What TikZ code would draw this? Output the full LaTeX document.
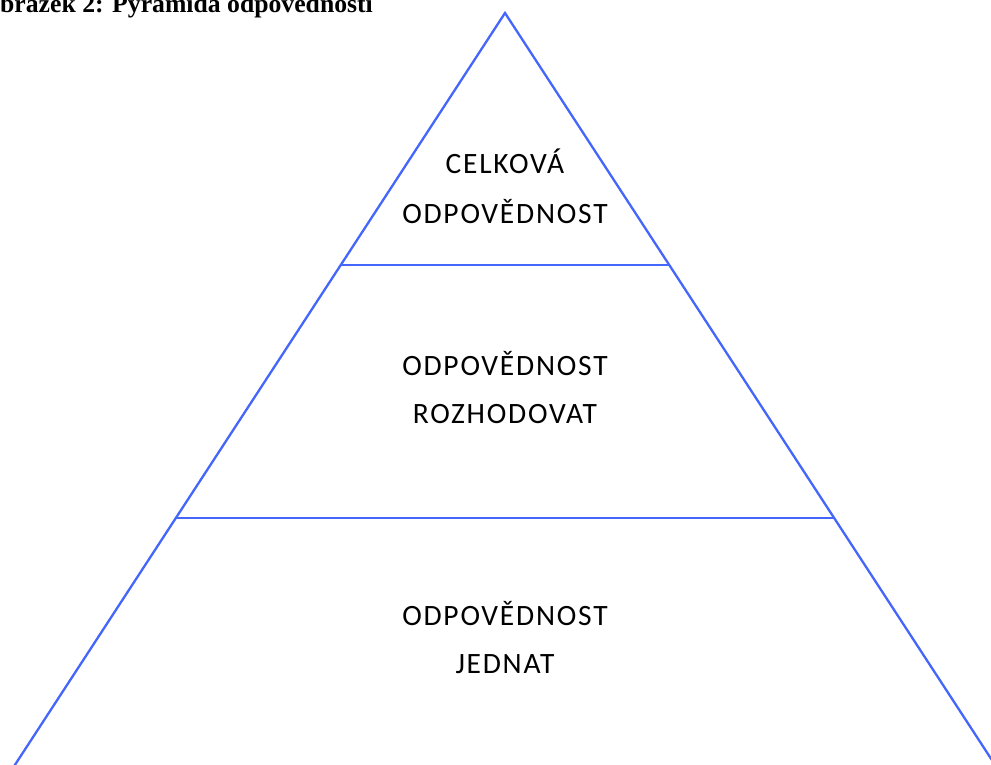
\documentclass[tikz,border=0pt]{standalone}
\usepackage{fontspec}
\setmainfont{Liberation Serif}
\newfontfamily\tierfont[LetterSpace=6]{Carlito}
\definecolor{pyrblue}{RGB}{68,102,250}
\begin{document}
\begin{tikzpicture}[x=1pt,y=-1pt,
  edge/.style={draw=pyrblue,line width=2.3pt},
  tier/.style={font=\tierfont\fontsize{29.5}{36}\selectfont,anchor=base,inner sep=0pt}]
\useasboundingbox (0,0) rectangle (991,765);
\begin{scope}
\clip (0,0) rectangle (991,765);
\node[font=\bfseries\fontsize{25.7}{30}\selectfont,anchor=base west,inner sep=0pt] (title) at (-20,12.8) {Obrázek 2: Pyramida odpovědnosti};
\coordinate (apex) at (505,13);
\coordinate (bl) at (-6,797);
\coordinate (br) at (1016,797);
\coordinate (l1) at (341,265);
\coordinate (r1) at (669,265);
\coordinate (l2) at (176,518);
\coordinate (r2) at (834,518);
\draw[edge,line join=miter] (bl) -- (apex) -- (br);
\draw[edge] (l1) -- (r1);
\draw[edge] (l2) -- (r2);
\end{scope}
\node[tier] (a1) at (505,174) {CELKOVÁ};
\node[tier] (a2) at (505,223) {ODPOVĚDNOST};
\node[tier] (b1) at (505,375) {ODPOVĚDNOST};
\node[tier] (b2) at (505,423) {ROZHODOVAT};
\node[tier] (c1) at (505,625) {ODPOVĚDNOST};
\node[tier] (c2) at (505,673) {JEDNAT};
\end{tikzpicture}
\end{document}
